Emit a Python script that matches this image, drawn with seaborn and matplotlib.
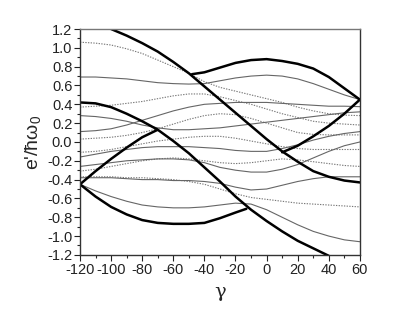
import pandas as pd
import matplotlib
matplotlib.use('Agg')
import matplotlib.pyplot as plt
from matplotlib.ticker import MultipleLocator, FormatStrFormatter
import seaborn as sns
import numpy as np

sns.set_style('ticks')
plt.rcParams['font.family'] = ['Liberation Sans', 'DejaVu Sans']
plt.rcParams['mathtext.default'] = 'regular'
plt.rcParams['axes.unicode_minus'] = False

# gamma grid (deg)
g = [-120, -110, -100, -90, -80, -70, -60, -50, -40, -30, -20, -10, 0, 10, 20, 30, 40, 50, 60]

# Thick curves (own gamma ranges)
d1_g = [-100, -90, -80, -70, -60, -50, -40, -30, -20, -10, 0, 10, 20, 30, 40, 50, 60]
d1_e = [1.20, 1.13, 1.05, 0.96, 0.85, 0.73, 0.59, 0.45, 0.31, 0.17, 0.03, -0.10, -0.21, -0.31, -0.37, -0.41, -0.43]
d2_g = [-120, -110, -100, -90, -80, -70, -60, -50, -40, -30, -20, -10, 0, 10, 20, 30, 40]
d2_e = [0.42, 0.41, 0.37, 0.30, 0.22, 0.13, 0.01, -0.12, -0.27, -0.42, -0.58, -0.72, -0.84, -0.95, -1.05, -1.13, -1.21]
arc1_g = [-48, -40, -30, -20, -10, 0, 10, 20, 30, 40, 50, 60]
arc1_e = [0.72, 0.74, 0.79, 0.84, 0.87, 0.88, 0.86, 0.83, 0.78, 0.69, 0.57, 0.45]
arc2_g = [-120, -110, -100, -90, -80, -70]
arc2_e = [-0.45, -0.31, -0.18, -0.06, 0.05, 0.13]
arc3_g = [-120, -110, -100, -90, -80, -70, -60, -50, -40, -30, -20, -13]
arc3_e = [-0.45, -0.58, -0.69, -0.77, -0.83, -0.86, -0.87, -0.87, -0.86, -0.81, -0.75, -0.71]
arc4_g = [10, 20, 30, 40, 50, 60]
arc4_e = [-0.11, -0.04, 0.06, 0.17, 0.30, 0.45]

# Thin solid curves
s1 = [0.69, 0.69, 0.68, 0.67, 0.65, 0.63, 0.62, 0.615, 0.62, 0.65, 0.68, 0.70, 0.71, 0.70, 0.67, 0.62, 0.56, 0.50, 0.45]
s2 = [0.28, 0.27, 0.25, 0.22, 0.18, 0.15, 0.13, 0.13, 0.14, 0.15, 0.17, 0.19, 0.21, 0.23, 0.25, 0.27, 0.29, 0.31, 0.32]
s3 = [0.11, 0.12, 0.14, 0.18, 0.23, 0.28, 0.33, 0.37, 0.40, 0.41, 0.42, 0.42, 0.42, 0.41, 0.40, 0.39, 0.38, 0.38, 0.375]
s4 = [-0.16, -0.13, -0.10, -0.08, -0.06, -0.05, -0.05, -0.05, -0.06, -0.07, -0.09, -0.10, -0.10, -0.07, -0.03, 0.02, 0.06, 0.09, 0.11]
s5 = [-0.26, -0.24, -0.22, -0.20, -0.19, -0.18, -0.18, -0.19, -0.22, -0.27, -0.30, -0.32, -0.32, -0.29, -0.24, -0.17, -0.10, -0.04, 0.00]
s6 = [-0.38, -0.38, -0.38, -0.39, -0.40, -0.40, -0.41, -0.41, -0.42, -0.44, -0.48, -0.51, -0.50, -0.46, -0.42, -0.39, -0.37, -0.37, -0.37]
s7 = [-0.45, -0.52, -0.58, -0.63, -0.67, -0.69, -0.70, -0.70, -0.69, -0.67, -0.65, -0.66, -0.72, -0.80, -0.88, -0.95, -1.00, -1.04, -1.06]

# Dotted curves
da = [1.06, 1.05, 1.03, 0.99, 0.94, 0.87, 0.80, 0.73, 0.64, 0.58, 0.54, 0.50, 0.46, 0.42, 0.37, 0.33, 0.30, 0.285, 0.28]
db = [0.37, 0.38, 0.39, 0.41, 0.43, 0.46, 0.49, 0.51, 0.51, 0.48, 0.44, 0.40, 0.35, 0.30, 0.26, 0.22, 0.20, 0.19, 0.18]
dc = [0.03, 0.04, 0.05, 0.07, 0.10, 0.14, 0.19, 0.24, 0.28, 0.30, 0.29, 0.25, 0.20, 0.15, 0.10, 0.08, 0.075, 0.075, 0.075]
dd = [-0.11, -0.10, -0.08, -0.05, -0.02, 0.01, 0.03, 0.05, 0.06, 0.06, 0.04, 0.01, -0.02, -0.05, -0.07, -0.08, -0.08, -0.08, -0.08]
de = [-0.31, -0.29, -0.26, -0.23, -0.20, -0.18, -0.17, -0.18, -0.20, -0.22, -0.23, -0.22, -0.20, -0.18, -0.19, -0.21, -0.23, -0.25, -0.26]
df = [-0.37, -0.37, -0.37, -0.38, -0.38, -0.39, -0.40, -0.42, -0.45, -0.50, -0.55, -0.59, -0.61, -0.63, -0.65, -0.66, -0.67, -0.68, -0.69]

fig = plt.figure(figsize=(3.99, 3.12), dpi=100)
ax = fig.add_axes([0.2005, 0.183, 0.7015, 0.724])

for e in [da, db, dc, dd, de, df]:
    sns.lineplot(x=g, y=e, ax=ax, color='#777777', lw=0.8, linestyle=(0, (1.2, 1.2)),
                 estimator=None, sort=False)
for e in [s1, s2, s3, s4, s5, s6, s7]:
    sns.lineplot(x=g, y=e, ax=ax, color='#666666', lw=0.8, estimator=None, sort=False)
for gg, e in [(d1_g, d1_e), (d2_g, d2_e), (arc1_g, arc1_e), (arc2_g, arc2_e),
              (arc3_g, arc3_e), (arc4_g, arc4_e)]:
    sns.lineplot(x=gg, y=e, ax=ax, color='black', lw=1.8, estimator=None, sort=False)

ax.set_xlim(-120, 60)
ax.set_ylim(-1.2, 1.2)
ax.xaxis.set_major_locator(MultipleLocator(20))
ax.xaxis.set_minor_locator(MultipleLocator(10))
ax.yaxis.set_major_locator(MultipleLocator(0.2))
ax.yaxis.set_minor_locator(MultipleLocator(0.1))
ax.yaxis.set_major_formatter(FormatStrFormatter('%.1f'))
ax.tick_params(which='major', length=4, width=0.8, labelsize=10.5, pad=1.5, colors='#222222')
ax.tick_params(which='minor', length=2.5, width=0.8)
for s in ax.spines.values():
    s.set_visible(True)
    s.set_linewidth(1.0)
    s.set_color('#333333')
ax.spines['top'].set_color('#777777')

ax.set_xlabel('γ', fontsize=14, family=['DejaVu Serif'], labelpad=5)
ax.set_ylabel("e'/ħω$_0$", fontsize=14, labelpad=3)

fig.savefig('out.png', dpi=100)
